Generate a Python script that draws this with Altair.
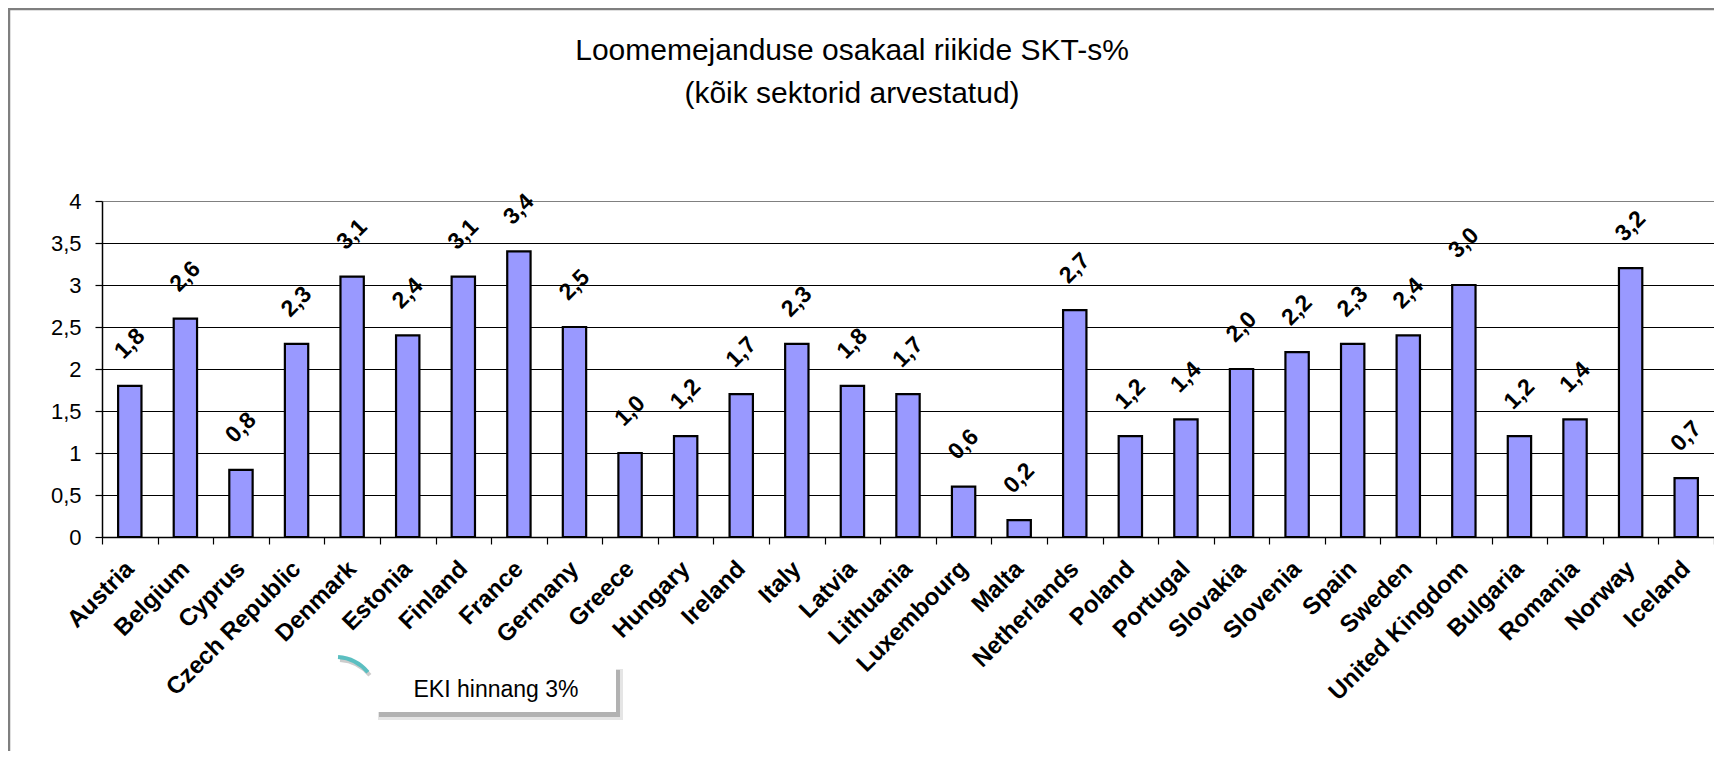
import altair as alt
import pandas as pd

countries = ["Austria", "Belgium", "Cyprus", "Czech Republic", "Denmark", "Estonia",
             "Finland", "France", "Germany", "Greece", "Hungary", "Ireland", "Italy",
             "Latvia", "Lithuania", "Luxembourg", "Malta", "Netherlands", "Poland",
             "Portugal", "Slovakia", "Slovenia", "Spain", "Sweden", "United Kingdom",
             "Bulgaria", "Romania", "Norway", "Iceland"]
values = [1.8, 2.6, 0.8, 2.3, 3.1, 2.4, 3.1, 3.4, 2.5, 1.0, 1.2, 1.7, 2.3, 1.8, 1.7,
          0.6, 0.2, 2.7, 1.2, 1.4, 2.0, 2.2, 2.3, 2.4, 3.0, 1.2, 1.4, 3.2, 0.7]
y_ticks = [0, 0.5, 1, 1.5, 2, 2.5, 3, 3.5, 4]
title_lines = ["Loomemejanduse osakaal riikide SKT-s%", "(kõik sektorid arvestatud)"]
note_text = "EKI hinnang 3%"

FONT = "Liberation Sans"
W, H = 1612, 336

df = pd.DataFrame({"country": countries, "v": values})
one = pd.DataFrame({"a": [0]})

x_enc = alt.X("country:N", sort=countries,
              scale=alt.Scale(paddingInner=0, paddingOuter=0),
              axis=alt.Axis(title=None, labelAngle=315, labelAlign="right",
                            labelBaseline="middle", labelFont=FONT, labelFontSize=24,
                            labelFontWeight="bold", labelColor="black", labelPadding=21,
                            labelOverlap=False, labelLimit=400,
                            tickBand="extent", tickSize=7, tickColor="black",
                            tickWidth=1.2, domainColor="black", domainWidth=1.5,
                            grid=False))

bars = alt.Chart(df).mark_bar(width=alt.RelativeBandSize(0.42), fill="#9999FF",
                              stroke="black", strokeWidth=2.2).encode(
    x=x_enc,
    y=alt.Y("v:Q", scale=alt.Scale(domain=[0, 4], nice=False),
            axis=alt.Axis(title=None, values=y_ticks,
                          labelExpr="replace(toString(datum.value), '.', ',')",
                          labelFont=FONT, labelFontSize=22, labelColor="black",
                          labelPadding=14, tickSize=7, tickColor="black", tickWidth=1.2,
                          domainColor="black", domainWidth=1.5, grid=True,
                          gridColor={"condition": {"test": "datum.value >= 4", "value": "#808080"},
                                     "value": "black"},
                          gridWidth=1.2)),
)

labels = alt.Chart(df).transform_calculate(
    ylab="datum.v + 0.5",
    txt="replace(format(datum.v, '.1f'), '.', ',')"
).mark_text(angle=315, align="center", baseline="middle", font=FONT, fontSize=23,
            fontWeight="bold", color="black").encode(
    x=alt.X("country:N", sort=countries),
    y=alt.Y("ylab:Q"),
    text="txt:N",
)

frame_left = alt.Chart(one).mark_rule(color="#7f7f7f", strokeWidth=2.5).encode(
    x=alt.value(-93), y=alt.value(-192), y2=alt.value(H + 220))
frame_top = alt.Chart(one).mark_rule(color="#7f7f7f", strokeWidth=2.5).encode(
    x=alt.value(-94), x2=alt.value(W + 10), y=alt.value(-192))

title1 = alt.Chart(one).mark_text(font=FONT, fontSize=30, color="black", align="center",
                                  baseline="alphabetic").encode(
    x=alt.value(750), y=alt.value(-141), text=alt.value(title_lines[0]))
title2 = alt.Chart(one).mark_text(font=FONT, fontSize=30, color="black", align="center",
                                  baseline="alphabetic").encode(
    x=alt.value(750), y=alt.value(-98), text=alt.value(title_lines[1]))

shadow2 = alt.Chart(one).mark_rect(fill="#000000", opacity=0.10).encode(
    x=alt.value(276), x2=alt.value(521), y=alt.value(468), y2=alt.value(519))
shadow1 = alt.Chart(one).mark_rect(fill="#000000", opacity=0.22).encode(
    x=alt.value(277), x2=alt.value(518), y=alt.value(469), y2=alt.value(516))
box = alt.Chart(one).mark_rect(fill="white").encode(
    x=alt.value(274), x2=alt.value(514), y=alt.value(464), y2=alt.value(511))
note = alt.Chart(one).mark_text(font=FONT, fontSize=23, color="black", align="center",
                                baseline="middle").encode(
    x=alt.value(394), y=alt.value(489), text=alt.value(note_text))
arc_shadow = alt.Chart(one).mark_arc(radius=41, radius2=45, theta=0.07, theta2=0.87,
                                     fill="#000000", opacity=0.2).encode(
    x=alt.value(235), y=alt.value(502))
arc = alt.Chart(one).mark_arc(radius=41, radius2=45, theta=0.07, theta2=0.87,
                              fill="#5BBFC1").encode(
    x=alt.value(233), y=alt.value(499))

chart = alt.layer(
    bars, labels, frame_left, frame_top, title1, title2,
    shadow2, shadow1, box, note, arc_shadow, arc
).properties(
    width=W, height=H,
    autosize=alt.AutoSizeParams(type="none"),
    padding={"left": 94, "top": 193, "right": 0, "bottom": 214},
).configure_view(
    stroke="#808080", strokeWidth=2, fill="#C0C0C0"
).configure(background="white")

chart.save("out.html", embed_options={"renderer": "svg", "actions": False})
